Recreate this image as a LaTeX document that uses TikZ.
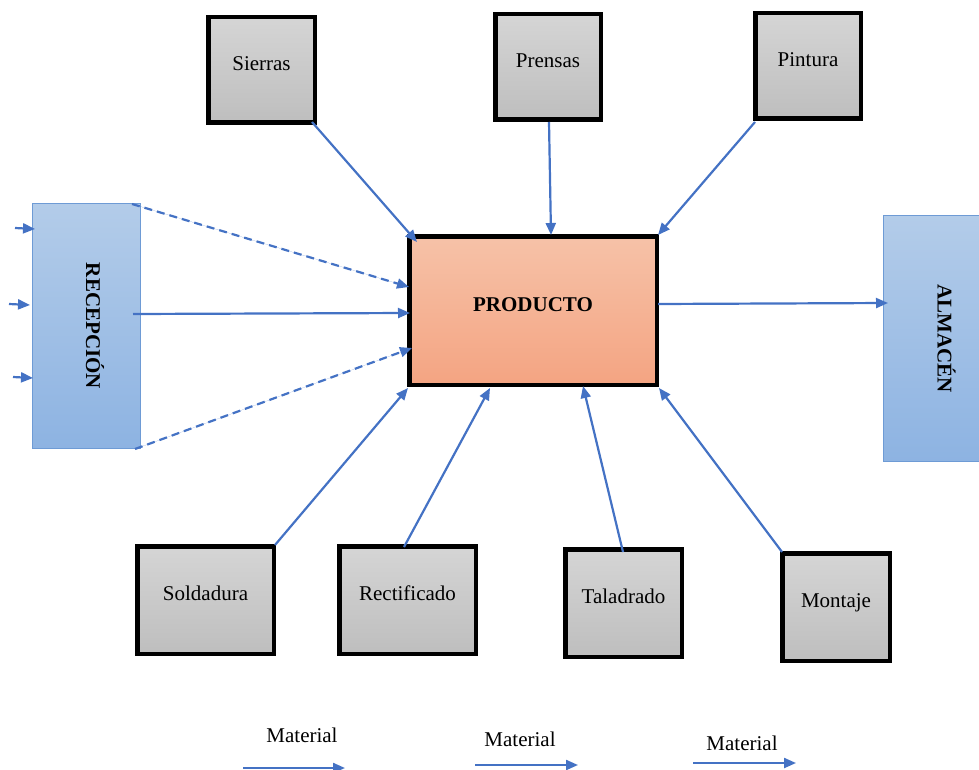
\documentclass[tikz,border=0pt]{standalone}
\usepackage{fontspec}
\setmainfont{Liberation Serif}
\usetikzlibrary{arrows.meta,calc}
\definecolor{flow}{HTML}{4472C4}
\definecolor{greyTop}{HTML}{D5D5D5}
\definecolor{greyBot}{HTML}{BEBEBE}
\definecolor{prodTop}{HTML}{F6C2A8}
\definecolor{prodBot}{HTML}{F4A482}
\definecolor{areaTop}{HTML}{B3CCE9}
\definecolor{areaBot}{HTML}{8DB3E2}
\definecolor{areaLine}{HTML}{6E9BD5}
\begin{document}
\begin{tikzpicture}[x=1pt,y=-1pt,
  txt/.style={font=\fontsize{21}{25}\selectfont},
  station/.style={txt,draw=black,line width=4.5pt,top color=greyTop,bottom color=greyBot,
    inner sep=0pt,outer sep=0pt,text height=14pt,text depth=13pt},
  product/.style={station,top color=prodTop,bottom color=prodBot,font=\fontsize{21}{25}\selectfont\bfseries},
  area/.style={draw=areaLine,line width=1pt,top color=areaTop,bottom color=areaBot,inner sep=0pt,outer sep=0pt},
  areatext/.style={font=\fontsize{21}{25}\selectfont\bfseries,rotate=-90,inner sep=0pt,text height=14pt,text depth=13pt},
  flowarrow/.style={draw=flow,line width=2.2pt,-{Triangle[length=12pt,width=10pt]},fill=flow},
  flowdash/.style={flowarrow,dash pattern=on 8pt off 5pt}]
\useasboundingbox (0,0) rectangle (979,770);
\clip (0,0) rectangle (979,770);

% work stations
\node[station,minimum width=106.5pt,minimum height=105.5pt] (sie) at (261.5,70) {Sierras};
\node[station,minimum width=105.5pt,minimum height=105.5pt] (pre) at (548,67) {Prensas};
\node[station,minimum width=105.5pt,minimum height=105.5pt] (pin) at (808,66) {Pintura};
\node[station,minimum width=136.5pt,minimum height=107.5pt] (sol) at (205.5,600) {Soldadura};
\node[station,minimum width=136.5pt,minimum height=107.5pt] (rec) at (407.5,600) {Rectificado};
\node[station,minimum width=116.5pt,minimum height=107.5pt] (tal) at (623.5,603) {Taladrado};
\node[station,minimum width=107.5pt,minimum height=107.5pt] (mon) at (836,607) {Montaje};

% product
\node[product,minimum width=247.5pt,minimum height=148.5pt] (prod) at (533,310.5) {PRODUCTO};

% reception and warehouse
\node[area,minimum width=108pt,minimum height=245pt] (recep) at (86.5,326) {};
\node[areatext] (recepT) at (recep.center) {RECEPCIÓN};
\node[area,minimum width=109pt,minimum height=246pt] (alm) at (938,338.5) {};
\node[areatext] (almT) at (alm.center) {ALMACÉN};

% incoming material
\coordinate (in1) at (15,228);
\coordinate (in2) at (9,304);
\coordinate (in3) at (13,377);
\draw[flowarrow] (in1) -- ($(recep.center)+(-51.5,-97)$);
\draw[flowarrow] (in2) -- ($(recep.center)+(-56.5,-21)$);
\draw[flowarrow] (in3) -- ($(recep.center)+(-53.5,52)$);

% reception to product
\draw[flowdash] ($(recep.center)+(45.5,-122)$) -- ($(prod.center)+(-124,-23.5)$);
\draw[flowarrow] ($(recep.center)+(46.5,-12)$) -- ($(prod.center)+(-123,2.5)$);
\draw[flowdash] ($(recep.center)+(48.5,123)$) -- ($(prod.center)+(-121,37.5)$);

% upper stations to product
\draw[flowarrow] ($(sie.center)+(50.5,52)$) -- ($(prod.center)+(-116,-68.5)$);
\draw[flowarrow] ($(pre.center)+(1,55)$) -- ($(prod.center)+(18,-75.5)$);
\draw[flowarrow] ($(pin.center)+(-53,56)$) -- ($(prod.center)+(125,-75.5)$);

% lower stations to product
\draw[flowarrow] ($(sol.center)+(69.5,-55)$) -- ($(prod.center)+(-125,77.5)$);
\draw[flowarrow] ($(rec.center)+(-3.5,-53)$) -- ($(prod.center)+(-43,77.5)$);
\draw[flowarrow] ($(tal.center)+(-0.5,-51)$) -- ($(prod.center)+(50,75.5)$);
\draw[flowarrow] ($(mon.center)+(-54,-55)$) -- ($(prod.center)+(126,77.5)$);

% product to warehouse
\draw[flowarrow] ($(prod.center)+(125,-6.5)$) -- ($(alm.center)+(-50,-35.5)$);

% legend
\node[txt] (m1) at (302,735) {Material};
\node[txt] (m2) at (520,739) {Material};
\node[txt] (m3) at (742,743) {Material};
\coordinate (l1a) at (243,768); \coordinate (l1b) at (345,768);
\coordinate (l2a) at (475,765); \coordinate (l2b) at (578,765);
\coordinate (l3a) at (693,763); \coordinate (l3b) at (796,763);
\draw[flowarrow] (l1a) -- (l1b);
\draw[flowarrow] (l2a) -- (l2b);
\draw[flowarrow] (l3a) -- (l3b);
\end{tikzpicture}
\end{document}
